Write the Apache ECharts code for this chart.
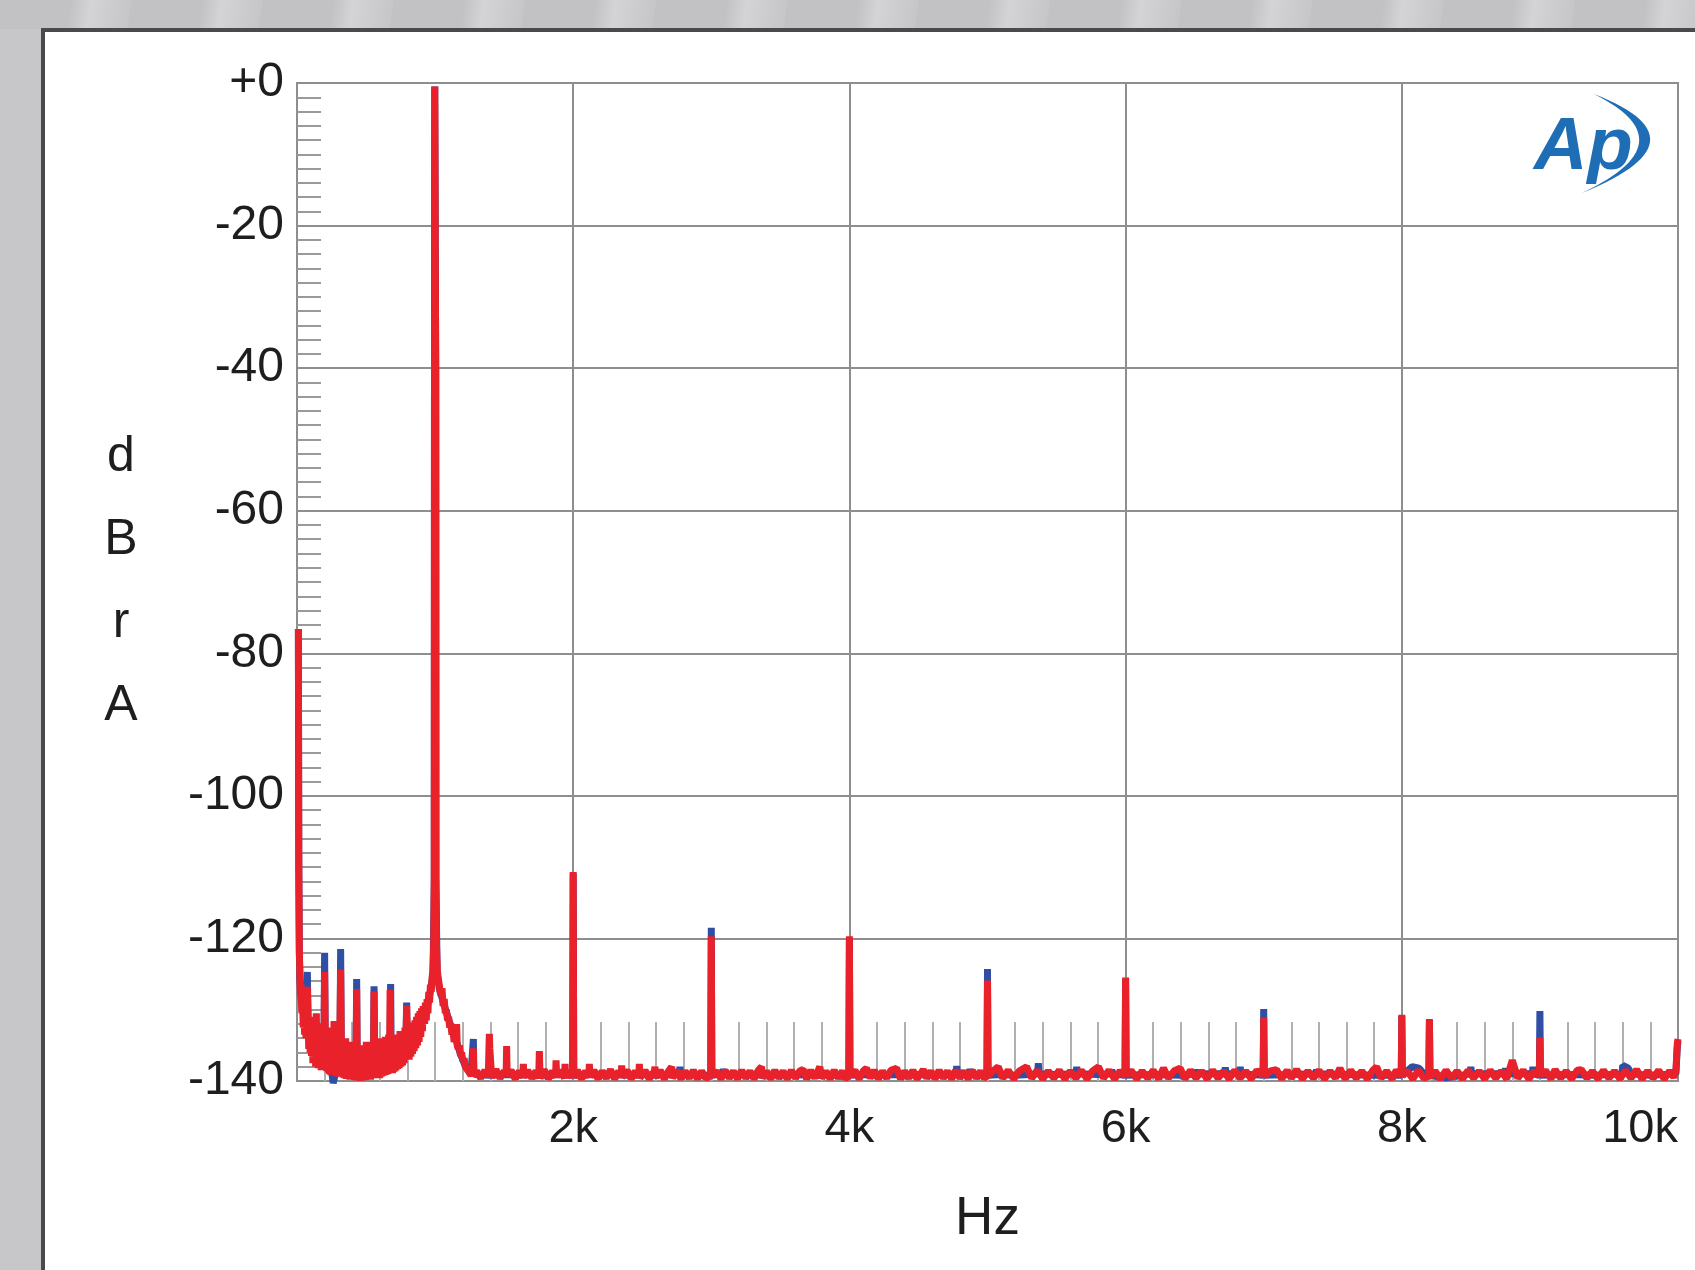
<!DOCTYPE html>
<html>
<head>
<meta charset="utf-8">
<script src="https://cdn.jsdelivr.net/npm/echarts@6/dist/echarts.min.js"></script>
<style>
  html, body { margin: 0; padding: 0; width: 1695px; height: 1270px; overflow: hidden; }
  body {
    background: #c7c7c9;
    position: relative;
  }
  #topstrip {
    position: absolute; left: 0; top: 0; width: 1695px; height: 29px;
    background: repeating-linear-gradient(98deg, #c2c2c4 0px, #c2c2c4 70px, #d4d4d6 90px, #c6c6c8 130px);
  }
  #panel {
    position: absolute; left: 41px; top: 28px; right: 0; bottom: 0;
    background: #ffffff;
    border-top: 4px solid #4a4a4c;
    border-left: 4px solid #4a4a4c;
  }
  #chart { position: absolute; left: 0; top: 0; width: 1695px; height: 1270px; }
</style>
</head>
<body>
<div id="topstrip"></div>
<div id="panel"></div>
<div id="chart"></div>
<script>
// ---- Data (frequency in Hz, level in dBrA) ----
const yTicks = [0, -20, -40, -60, -80, -100, -120, -140];
const xTickLabels = ['2k', '4k', '6k', '8k', '10k'];

// Red trace, 0 - 1.3 kHz (hum spurs + fundamental skirt)
const redLow = [
  [10,-76.6],[13,-110],[17,-122],[22,-126],[25,-128],[30,-126.5],[35,-130.5],[40,-128],[45,-132.5],[50,-129],
  [55,-133.5],[60,-130],[65,-134],[70,-129.5],[75,-126.8],[80,-131],[85,-135.5],[90,-131.5],[95,-136],[100,-131],
  [105,-136.5],[110,-132],[115,-137.5],[120,-131.5],[125,-137],[130,-132.5],[135,-138],[140,-130.5],[145,-137.5],[150,-132.5],
  [155,-138.2],[160,-132],[165,-138],[170,-133],[175,-138.5],[180,-132.5],[185,-138.3],[190,-133],[195,-137],[200,-124.7],
  [205,-136],[210,-132.5],[215,-138.6],[220,-133],[225,-138.8],[230,-132.5],[235,-139],[240,-133.5],[245,-139.2],[250,-133],
  [255,-139],[260,-134],[265,-138],[268,-131.6],[272,-138.5],[278,-133.5],[284,-139.3],[290,-134],[296,-139.4],[302,-133.5],
  [308,-138.5],[316,-124.4],[322,-138.6],[328,-134],[334,-139.5],[340,-134.5],[346,-139.6],[352,-134],[358,-139.7],[364,-135],
  [370,-139.6],[376,-134.5],[382,-139.8],[388,-135],[394,-139.7],[400,-134.5],[406,-139.8],[412,-135.5],[418,-139.9],[424,-135],
  [428,-138.5],[432,-127.1],[436,-139],[442,-135],[448,-139.9],[454,-135.5],[460,-140],[466,-135],[472,-139.9],[478,-135.5],
  [484,-139.8],[490,-135],[496,-139.9],[502,-134.5],[508,-139.8],[514,-135],[520,-139.7],[526,-134.5],[532,-139.8],[538,-135],
  [544,-139.6],[550,-135],[554,-138],[558,-127.4],[562,-138.5],[568,-134.5],[574,-139.6],[580,-134.5],[586,-139.5],[592,-134],
  [598,-139.6],[604,-134.5],[610,-139.4],[616,-134],[622,-139.3],[628,-134.5],[634,-139.2],[640,-133.8],[646,-139.1],[652,-134],
  [658,-139],[664,-133.5],[670,-138],[674,-127.2],[680,-138.5],[686,-134],[692,-138.9],[698,-133.5],[704,-138.7],[710,-134],
  [716,-138.5],[722,-133.5],[728,-138.3],[734,-133.5],[740,-138.2],[746,-133],[752,-138],[758,-133.5],[764,-137.8],[770,-133],
  [776,-137.5],[782,-132.5],[788,-136],[794,-129.4],[800,-136],[806,-132.5],[812,-137],[818,-132.5],[824,-136.6],[830,-132],
  [836,-136.2],[842,-131.8],[848,-135.8],[854,-131.5],[860,-135.4],[866,-131],[872,-135],[878,-130.5],[884,-134.5],[890,-130.2],
  [896,-133.8],[902,-129.8],[908,-133],[914,-129.5],[918,-129.4],[924,-132],[930,-129],[936,-131.5],[942,-128.5],[948,-130.5],
  [954,-127.5],[960,-129],[966,-126.5],[972,-127.5],[978,-125.5],[984,-124.5],[990,-121],[994,-112],[995.5,-40],[997.5,-0.5],
  [1002.5,-0.5],[1004.5,-40],[1006,-112],[1010,-121],[1016,-124.5],[1022,-125.5],[1030,-126.5],[1036,-127.5],[1044,-128],[1050,-127],
  [1058,-129.5],[1066,-128.5],[1074,-130.5],[1082,-130],[1090,-131.5],[1098,-131],[1106,-132.5],[1114,-132],[1122,-133.5],[1130,-133],
  [1138,-134.5],[1146,-134],[1152,-134.5],[1156,-132.0],[1160,-135],[1168,-135.5],[1176,-135],[1184,-136.5],[1192,-136],[1200,-137.2],
  [1210,-136.8],[1220,-138],[1230,-137.8],[1240,-138.6],[1250,-138.5],[1260,-139.2],[1270,-138.8],[1274,-139.2],[1277,-135.4],[1280,-139.3]
];

// Red trace, 1.3 - 5 kHz
const redMid = [
  [1300,-138.6],[1330,-139.6],[1360,-138.5],[1385,-139.4],[1390,-135.4],[1393,-133.4],[1396,-135.4],[1410,-139.5],[1440,-138.4],[1470,-139.6],
  [1500,-138.6],[1514,-139.3],[1518,-135.1],[1522,-139.3],[1550,-138.5],[1580,-139.7],[1610,-138.6],[1635,-139.5],[1639,-137.6],[1643,-139.5],
  [1670,-138.5],[1700,-139.6],[1730,-138.6],[1750,-139.6],[1755,-135.8],[1760,-139.6],[1790,-138.4],[1820,-139.7],[1850,-138.6],[1872,-139.5],
  [1876,-137.1],[1880,-139.4],[1910,-138.5],[1937,-139.6],[1941,-137.6],[1945,-139.5],[1970,-138.6],[1996,-139.5],[2000,-110.7],[2004,-139.5],
  [2030,-138.5],[2060,-139.7],[2090,-138.6],[2113,-139.5],[2117,-137.6],[2121,-139.4],[2150,-138.5],[2180,-139.7],[2210,-138.6],[2240,-139.6],
  [2270,-138.4],[2300,-139.7],[2330,-138.6],[2347,-139.5],[2351,-137.8],[2355,-139.5],[2390,-138.5],[2420,-139.7],[2450,-138.6],[2475,-139.5],
  [2479,-137.6],[2483,-139.6],[2520,-138.5],[2550,-139.7],[2588,-138.6],[2592,-138.0],[2596,-139.5],[2630,-138.5],[2660,-139.7],[2690,-138.6],
  [2713,-138.0],[2720,-139.6],[2750,-138.5],[2780,-139.7],[2810,-138.6],[2840,-139.6],[2870,-138.5],[2900,-139.7],[2930,-138.6],[2960,-139.6],
  [2996,-139.3],[3000,-119.7],[3004,-139.3],[3040,-138.6],[3070,-139.7],[3100,-138.5],[3130,-139.6],[3160,-138.6],[3190,-139.7],[3220,-138.5],
  [3250,-139.6],[3280,-138.6],[3310,-139.7],[3340,-138.5],[3364,-138.0],[3370,-139.6],[3400,-138.6],[3430,-139.7],[3460,-138.5],[3490,-139.6],
  [3520,-138.6],[3550,-139.7],[3580,-138.5],[3610,-139.6],[3640,-138.6],[3665,-138.4],[3690,-139.7],[3720,-138.5],[3750,-139.6],[3786,-138.0],
  [3800,-139.6],[3830,-138.6],[3860,-139.7],[3890,-138.5],[3920,-139.6],[3950,-138.6],[3970,-139.7],[3996,-139.3],[4000,-119.7],[4004,-139.3],
  [4040,-138.5],[4070,-139.7],[4100,-138.6],[4124,-138.2],[4150,-139.6],[4180,-138.5],[4210,-139.7],[4240,-138.6],[4270,-139.6],[4300,-138.5],
  [4342,-138.2],[4370,-139.7],[4400,-138.6],[4430,-139.6],[4460,-138.5],[4490,-139.7],[4535,-138.4],[4560,-139.6],[4590,-138.6],[4620,-139.7],
  [4650,-138.5],[4680,-139.6],[4710,-138.6],[4740,-139.7],[4770,-138.5],[4800,-139.6],[4830,-138.6],[4860,-139.7],[4890,-138.5],[4920,-139.6],
  [4950,-138.6],[4975,-139.6],[4996,-139.3]
];

// Red trace, 5 - 10 kHz
const redHigh = [
  [5000,-125.9],[5004,-139.3],[5040,-138.6],[5078,-138.0],[5110,-139.6],[5150,-138.5],[5190,-139.7],[5230,-138.6],[5283,-138.0],[5320,-139.6],
  [5360,-138.5],[5400,-139.7],[5440,-138.6],[5480,-139.6],[5520,-138.5],[5560,-139.7],[5600,-138.6],[5640,-139.6],[5680,-138.5],[5720,-139.7],
  [5760,-138.6],[5803,-138.0],[5840,-139.6],[5880,-138.5],[5920,-139.7],[5960,-138.6],[5996,-139.3],[6000,-125.5],[6004,-139.3],[6040,-138.5],
  [6080,-139.7],[6120,-138.6],[6160,-139.6],[6200,-138.5],[6240,-139.7],[6274,-138.2],[6310,-139.6],[6350,-138.6],[6395,-138.2],[6430,-139.7],
  [6470,-138.5],[6510,-139.6],[6550,-138.6],[6590,-139.7],[6630,-138.5],[6670,-139.6],[6710,-138.6],[6750,-139.7],[6790,-138.5],[6830,-139.6],
  [6870,-138.6],[6910,-139.7],[6950,-138.5],[6996,-139.3],[7000,-131.1],[7004,-139.3],[7050,-138.6],[7093,-138.4],[7130,-139.7],[7170,-138.5],
  [7200,-139.6],[7238,-138.4],[7280,-139.7],[7320,-138.6],[7360,-139.6],[7400,-138.5],[7440,-139.7],[7480,-138.6],[7520,-139.6],[7552,-138.2],
  [7590,-139.7],[7630,-138.5],[7670,-139.6],[7710,-138.6],[7750,-139.7],[7790,-138.5],[7818,-138.0],[7850,-139.6],[7890,-138.6],[7930,-139.7],
  [7960,-138.5],[7996,-139.3],[8000,-130.7],[8004,-139.3],[8040,-138.6],[8080,-139.7],[8120,-138.5],[8160,-139.6],[8196,-139.3],[8200,-131.3],
  [8204,-139.5],[8240,-138.6],[8280,-139.7],[8320,-138.5],[8360,-139.6],[8400,-138.6],[8440,-139.7],[8480,-138.5],[8520,-139.6],[8560,-138.6],
  [8600,-139.7],[8640,-138.5],[8680,-139.6],[8720,-138.6],[8760,-139.7],[8800,-137.1],[8840,-139.6],[8880,-138.5],[8920,-139.7],[8960,-138.6],
  [8996,-139.3],[9000,-133.9],[9004,-139.3],[9040,-138.5],[9080,-139.7],[9110,-138.4],[9150,-139.6],[9190,-138.6],[9230,-139.7],[9270,-138.5],
  [9300,-138.4],[9340,-139.6],[9380,-138.6],[9420,-139.7],[9460,-138.5],[9500,-139.6],[9540,-138.6],[9580,-139.7],[9620,-138.5],[9660,-139.6],
  [9700,-138.4],[9740,-139.7],[9780,-138.6],[9820,-139.6],[9860,-138.5],[9900,-139.7],[9940,-138.6],[9970,-139.5],[9985,-138.5],[9995,-134.8],
  [10000,-134.1]
];

// Blue trace, 0 - 1.3 kHz
const blueLow = [
  [10,-76.6],[13,-110],[17,-122],[22,-126],[30,-128.5],[40,-130],[50,-131],[60,-131.5],[70,-130],[75,-124.7],
  [80,-131.5],[100,-134],[130,-135],[160,-135.5],[195,-135.5],[200,-122.0],[205,-135.5],[230,-137],[250,-138.5],[262,-140.3],
  [275,-140.3],[290,-138],[311,-135.5],[316,-121.5],[321,-136],[360,-137],[400,-137.5],[428,-136.5],[432,-125.7],[436,-137],
  [480,-137.5],[520,-137.5],[554,-136.5],[558,-126.7],[562,-137],[600,-137],[640,-136.5],[674,-135.5],[678,-126.4],[682,-136],
  [720,-136],[760,-135],[790,-133],[794,-129.0],[798,-134],[830,-134],[860,-133],[890,-132],[920,-130.5],[950,-129],
  [970,-127],[985,-125],[994,-112],[995.5,-40],[997.5,-0.5],[1002.5,-0.5],[1004.5,-40],[1006,-112],[1015,-125],[1030,-127],
  [1060,-129],[1100,-131.5],[1140,-133.5],[1180,-136],[1220,-138],[1260,-139],[1273,-139],[1277,-134.1],[1281,-139]
];

// Blue trace, 1.3 - 5 kHz
const blueMid = [
  [1300,-139.1],[1400,-139.2],[1500,-139.1],[1600,-139.2],[1700,-139.1],[1800,-139.2],[1900,-139.1],[1996,-139.2],[2000,-110.9],[2004,-139.2],
  [2100,-139.1],[2200,-139.2],[2300,-139.1],[2400,-139.2],[2500,-139.1],[2600,-139.2],[2700,-139.1],[2768,-139.0],[2773,-138.0],[2778,-139.0],
  [2900,-139.2],[2996,-139.2],[3000,-118.5],[3004,-139.2],[3082,-139.0],[3087,-138.3],[3092,-139.0],[3200,-139.1],[3300,-139.2],[3400,-139.1],
  [3500,-139.2],[3600,-139.1],[3700,-139.2],[3800,-139.1],[3900,-139.2],[3996,-139.2],[4000,-120.0],[4004,-139.2],[4100,-139.1],[4200,-139.2],
  [4300,-139.1],[4400,-139.2],[4500,-139.1],[4600,-139.2],[4700,-139.1],[4772,-139.0],[4777,-137.9],[4782,-139.0],[4869,-139.0],[4874,-138.3],
  [4879,-139.0],[4996,-139.2]
];

// Blue trace, 5 - 10 kHz
const blueHigh = [
  [5000,-124.3],[5004,-139.2],[5100,-139.1],[5200,-139.2],[5300,-139.1],[5363,-139.0],[5368,-137.5],[5373,-139.0],[5500,-139.1],[5641,-139.0],
  [5646,-138.0],[5651,-139.0],[5800,-139.1],[5895,-139.0],[5900,-138.4],[5905,-139.0],[5996,-139.2],[6000,-125.7],[6004,-139.2],[6200,-139.1],
  [6400,-139.2],[6511,-139.0],[6516,-138.4],[6521,-139.0],[6717,-139.0],[6722,-138.1],[6727,-139.0],[6825,-139.0],[6830,-138.0],[6835,-139.0],
  [6996,-139.2],[7000,-129.9],[7004,-139.2],[7200,-139.1],[7378,-139.0],[7383,-138.4],[7388,-139.0],[7600,-139.1],[7800,-139.2],[7996,-139.2],
  [8000,-130.9],[8004,-139.2],[8075,-138.0],[8125,-138.2],[8160,-139.0],[8196,-139.2],[8200,-131.5],[8204,-139.2],[8290,-139.5],[8300,-139.0],
  [8310,-139.6],[8495,-139.0],[8500,-138.0],[8505,-139.0],[8745,-139.0],[8750,-138.2],[8755,-139.0],[8945,-139.0],[8950,-138.0],[8955,-139.0],
  [8996,-139.2],[9000,-130.2],[9004,-139.2],[9200,-139.1],[9400,-139.2],[9595,-139.0],[9600,-137.8],[9640,-138.2],[9660,-139.0],[9800,-139.2],
  [9985,-139.0],[9995,-135.2],[10000,-134.4]
];

const redData = redLow.concat(redMid, redHigh);
const blueData = blueLow.concat(blueMid, blueHigh);

const FONT = '"Liberation Sans", Arial, Helvetica, sans-serif';

// Logo crescent (decoration): sampled from two quadratic curves
function quad(p0, p1, p2, n) {
  const pts = [];
  for (let i = 0; i <= n; i++) {
    const t = i / n, u = 1 - t;
    pts.push([u * u * p0[0] + 2 * u * t * p1[0] + t * t * p2[0], u * u * p0[1] + 2 * u * t * p1[1] + t * t * p2[1]]);
  }
  return pts;
}
const crescent = quad([1594, 94], [1712, 140], [1582, 193], 30).concat(quad([1582, 193], [1690, 142], [1594, 94], 30));

const chart = echarts.init(document.getElementById('chart'), null, { renderer: 'canvas' });

const option = {
  animation: false,
  backgroundColor: 'transparent',
  textStyle: { fontFamily: FONT },
  grid: {
    left: 297, top: 83, width: 1381, height: 998,
    show: true, borderColor: '#8e8e8e', borderWidth: 2, backgroundColor: 'transparent',
    containLabel: false, outerBoundsMode: 'none'
  },
  xAxis: {
    type: 'value', min: 0, max: 10000, interval: 2000,
    name: 'Hz', nameLocation: 'middle', nameGap: 138,
    nameTextStyle: { fontSize: 53, color: '#1e1e1e', fontFamily: FONT, verticalAlign: 'middle' },
    axisLine: { show: true, onZero: false, lineStyle: { color: '#8e8e8e', width: 2 } },
    axisTick: { show: false, inside: true },
    minorTick: { show: true, splitNumber: 10, length: 59, lineStyle: { color: '#b0b0b0', width: 2 } },
    splitLine: { show: true, lineStyle: { color: '#8e8e8e', width: 2 } },
    axisLabel: {
      fontSize: 47, color: '#1e1e1e', fontFamily: FONT, margin: 25, alignMaxLabel: 'right',
      formatter: function (v) { if (v === 0) return ''; const i = Math.round(v / 2000) - 1; return xTickLabels[i] || ''; }
    }
  },
  yAxis: {
    type: 'value', min: yTicks[yTicks.length - 1], max: yTicks[0], interval: 20,
    name: 'd\nB\nr\nA', nameLocation: 'middle', nameRotate: 0, nameGap: 176,
    nameTextStyle: { fontSize: 50, lineHeight: 83, color: '#1e1e1e', fontFamily: FONT, align: 'center', verticalAlign: 'middle', padding: [0, 0, 14, 0] },
    axisLine: { show: true, onZero: false, lineStyle: { color: '#8e8e8e', width: 2 } },
    axisTick: { show: false, inside: true },
    minorTick: { show: true, splitNumber: 10, length: 24, lineStyle: { color: '#9a9a9a', width: 2 } },
    splitLine: { show: true, lineStyle: { color: '#8e8e8e', width: 2 } },
    axisLabel: {
      fontSize: 48, color: '#1e1e1e', fontFamily: FONT, margin: 13,
      formatter: function (v) { return v === 0 ? '+0' : String(v); }
    }
  },
  series: [
    {
      name: 'Ch B', type: 'line', data: blueData, showSymbol: false, symbol: 'none',
      lineStyle: { color: '#2f4fa5', width: 7 }, itemStyle: { color: '#2f4fa5' },
      clip: true, z: 3, silent: true
    },
    {
      name: 'Ch A', type: 'line', data: redData, showSymbol: false, symbol: 'none',
      lineStyle: { color: '#e8212a', width: 7 }, itemStyle: { color: '#e8212a' },
      clip: true, z: 4, silent: true
    }
  ],
  graphic: [
    {
      type: 'text', x: 1534, y: 112, z: 10,
      style: { text: 'Ap', font: 'italic bold 74px ' + FONT, fill: '#1f6db5' }
    },
    {
      type: 'polygon', z: 10,
      shape: { points: crescent },
      style: { fill: '#1f6db5' }
    }
  ]
};
chart.setOption(option);
</script>
</body>
</html>
